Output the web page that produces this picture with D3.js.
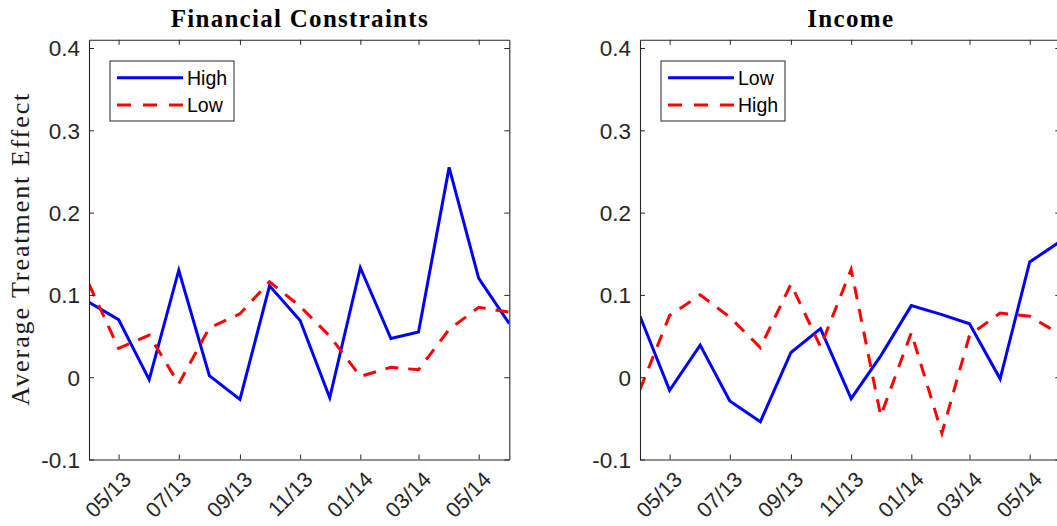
<!DOCTYPE html>
<html><head><meta charset="utf-8">
<script src="https://cdn.jsdelivr.net/npm/d3@7"></script>
<style>body{margin:0;background:#fff;overflow:hidden} svg{display:block}</style>
</head><body><svg id="c" width="1057" height="526"></svg>
<script>
// ---- data ----
const months = ["2013-04-01","2013-05-01","2013-06-01","2013-07-01","2013-08-01","2013-09-01","2013-10-01","2013-11-01","2013-12-01","2014-01-01","2014-02-01","2014-03-01","2014-04-01","2014-05-01","2014-06-01"];
const xTickDates = ["2013-05-01","2013-07-01","2013-09-01","2013-11-01","2014-01-01","2014-03-01","2014-05-01"];
const xTickLabels = ["05/13","07/13","09/13","11/13","01/14","03/14","05/14"];
const yTicks = [-0.1, 0, 0.1, 0.2, 0.3, 0.4];
const yTickLabels = ["-0.1","0","0.1","0.2","0.3","0.4"];
const titles = ["Financial Constraints", "Income"];
const yLabel = "Average Treatment Effect";
const fcHigh = [0.091, 0.070, -0.003, 0.130, 0.002, -0.027, 0.111, 0.069, -0.025, 0.133, 0.047, 0.055, 0.255, 0.120, 0.065];
const fcLow  = [0.113, 0.035, 0.051, -0.008, 0.060, 0.077, 0.116, 0.086, 0.050, 0.001, 0.012, 0.009, 0.058, 0.085, 0.079];
const incLow  = [0.074, -0.016, 0.039, -0.029, -0.054, 0.030, 0.059, -0.026, 0.026, 0.087, 0.076, 0.065, -0.002, 0.140, 0.165];
const incHigh = [-0.015, 0.075, 0.100, 0.073, 0.036, 0.113, 0.037, 0.131, -0.047, 0.054, -0.068, 0.051, 0.078, 0.074, 0.052];
const legendNames = [["High","Low"],["Low","High"]];

// ---- layout ----
const parse = d3.timeParse("%Y-%m-%d");
const dates = months.map(parse);
const svg = d3.select("#c");
const AX = "#262626";
const TOP = 39.8, BOTTOM = 459.5;
const SANS = "'Liberation Sans', Arial, sans-serif";
const SERIF = "'Liberation Serif', 'Times New Roman', serif";
const panels = [
  {x0: 89, x1: 509.3, series: [fcHigh, fcLow], names: legendNames[0], title: titles[0], titleW: 257, ylab: true},
  {x0: 640, x1: 1060.3, series: [incLow, incHigh], names: legendNames[1], title: titles[1], titleW: 86, ylab: false}
];
const styles = [{color: "#0000ff", dash: null}, {color: "#ff0000", dash: "13,10"}];

panels.forEach((p, pi) => {
  const x = d3.scaleTime().domain([dates[0], dates[dates.length-1]]).range([p.x0, p.x1]);
  const y = d3.scaleLinear().domain([-0.1, 0.41]).range([BOTTOM, TOP]);
  const g = svg.append("g");
  const cid = "clip" + pi;
  svg.append("clipPath").attr("id", cid).append("rect")
    .attr("x", p.x0).attr("y", TOP).attr("width", p.x1 - p.x0).attr("height", BOTTOM - TOP);

  // lines
  const line = d3.line().x((d, i) => x(dates[i])).y(d => y(d));
  p.series.forEach((vals, si) => {
    g.append("path").datum(vals).attr("d", line).attr("clip-path", `url(#${cid})`)
      .attr("fill", "none").attr("stroke", styles[si].color).attr("stroke-width", 3)
      .attr("stroke-linejoin", "miter").attr("stroke-dasharray", styles[si].dash);
  });

  const tickVals = xTickDates.map(parse);
  // axes
  const left = d3.axisLeft(y).tickValues(yTicks).tickFormat((d, i) => yTickLabels[i]).tickSize(-5).tickSizeOuter(0).tickPadding(9);
  const right = d3.axisRight(y).tickValues(yTicks).tickFormat("").tickSize(-5).tickSizeOuter(0);
  const bottom = d3.axisBottom(x).tickValues(tickVals).tickFormat((d, i) => xTickLabels[i]).tickSize(-5).tickSizeOuter(0);
  const top = d3.axisTop(x).tickValues(tickVals).tickFormat("").tickSize(-5).tickSizeOuter(0);

  const gl = g.append("g").attr("transform", `translate(${p.x0},0)`).call(left);
  const gr = g.append("g").attr("transform", `translate(${p.x1},0)`).call(right);
  const gb = g.append("g").attr("transform", `translate(0,${BOTTOM})`).call(bottom);
  const gt = g.append("g").attr("transform", `translate(0,${TOP})`).call(top);
  [gl, gr, gb, gt].forEach(a => {
    a.attr("font-size", null).attr("font-family", null);
    a.selectAll("path.domain").attr("stroke", AX).attr("stroke-width", 1.1);
    a.selectAll(".tick line").attr("stroke", AX).attr("stroke-width", 1);
    a.selectAll("text").attr("fill", AX).style("font-family", SANS).style("font-size", "22.5px");
  });
  gl.selectAll("text").attr("dy", "0.35em");
  gb.selectAll("text")
    .style("font-size", "21.5px")
    .attr("text-anchor", "end").attr("dy", "0.35em").attr("y", 0)
    .attr("transform", "translate(8,16) rotate(-45)");

  // title
  g.append("text").attr("x", (p.x0 + p.x1) / 2).attr("y", 27).attr("text-anchor", "middle")
    .style("font-family", SERIF).style("font-weight", "bold").style("font-size", "25px")
    .attr("fill", "#000").attr("textLength", p.titleW).attr("lengthAdjust", "spacing").text(p.title);

  // legend
  const lg = g.append("g");
  lg.append("rect").attr("x", p.x0 + 21).attr("y", 61).attr("width", 124).attr("height", 60)
    .attr("fill", "#fff").attr("stroke", AX).attr("stroke-width", 1);
  p.names.forEach((n, si) => {
    const yy = 77.7 + si * 27.3;
    lg.append("line").attr("x1", p.x0 + 28).attr("x2", p.x0 + 94).attr("y1", yy).attr("y2", yy)
      .attr("stroke", styles[si].color).attr("stroke-width", 3).attr("stroke-dasharray", styles[si].dash ? "14,12" : null);
    lg.append("text").attr("x", p.x0 + 98).attr("y", yy).attr("dy", "0.35em")
      .style("font-family", SANS).style("font-size", "19.5px")
      .attr("fill", "#000").text(n);
  });

  if (p.ylab) {
    g.append("text").attr("transform", `translate(29,${(TOP + BOTTOM) / 2}) rotate(-90)`)
      .attr("text-anchor", "middle")
      .style("font-family", SERIF).style("font-size", "26px")
      .attr("fill", "#1a1a1a").attr("textLength", 312).attr("lengthAdjust", "spacing").text(yLabel);
  }
});
</script></body></html>
